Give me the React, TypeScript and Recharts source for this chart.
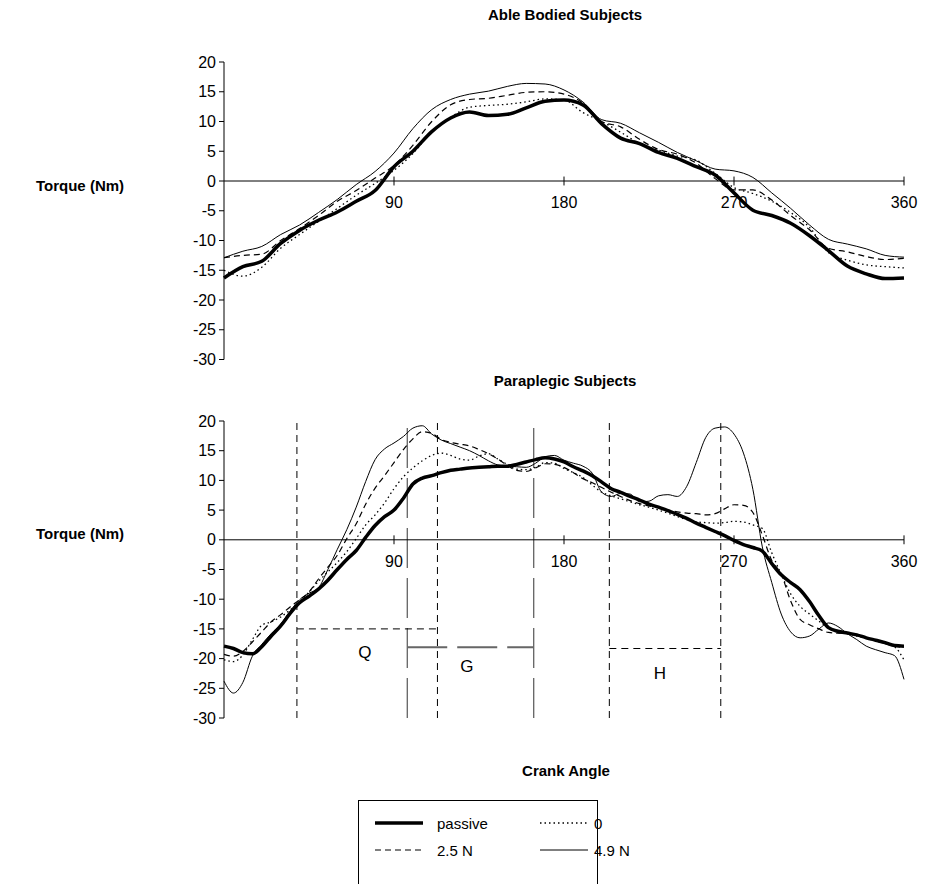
import React from "react";
import { LineChart, Line, XAxis, YAxis, ReferenceLine, ReferenceDot } from "recharts";

const FONT = "'Liberation Sans', Arial, sans-serif";

const yTicks = [-30, -25, -20, -15, -10, -5, 0, 5, 10, 15, 20];
const xTickLabels = [90, 180, 270, 360];

// able bodied, every 10 degrees
const topAngles = [
  0, 10, 20, 30, 40, 50, 60, 70, 80, 90, 100, 110, 120, 130, 140, 150, 160, 170, 180,
  190, 200, 210, 220, 230, 240, 250, 260, 270, 280, 290, 300, 310, 320, 330, 340, 350, 360,
];
const topPassive = [
  -16.3, -14.4, -13.5, -10.5, -8.3, -6.6, -5.2, -3.4, -1.6, 2.4, 5.0, 8.3, 10.6, 11.6, 11.0, 11.2, 12.3, 13.4, 13.6,
  12.8, 9.6, 7.2, 6.3, 4.8, 3.8, 2.4, 1.0, -2.0, -4.9, -5.8, -7.1, -9.2, -11.7, -14.3, -15.6, -16.4, -16.3,
];
const topZero = [
  -15.0, -16.0, -14.5, -11.3, -9.0, -6.8, -4.6, -2.4, -0.4, 1.8, 4.6, 8.3, 10.7, 12.4, 12.7, 12.9, 13.3, 13.8, 13.6,
  11.5, 10.0, 8.2, 6.3, 5.2, 4.2, 3.5, 1.3, -1.1, -2.1, -3.4, -5.3, -7.8, -12.0, -13.3, -14.1, -14.4, -14.6,
];
const top25 = [
  -12.9, -12.5, -12.3, -10.0, -8.0, -5.8, -3.4, -1.6, 0.5, 2.6, 6.0, 10.0, 12.8, 13.7, 13.9, 14.4, 14.9, 15.0, 14.6,
  13.1, 10.0, 9.1, 7.0, 5.3, 4.5, 3.0, 0.4, -1.5, -1.5, -3.2, -5.8, -8.2, -11.3, -11.9, -12.7, -13.2, -13.0,
];
const top49 = [
  -12.9, -11.8, -11.0, -9.0, -7.4, -5.3, -3.1, -0.6, 1.6, 4.7, 8.8, 12.0, 13.7, 14.6, 15.1, 15.9, 16.4, 16.3, 15.3,
  13.3, 10.3, 9.7, 8.1, 6.5, 4.8, 3.4, 2.0, 1.7, 0.6, -2.0, -4.6, -7.4, -9.8, -10.6, -11.4, -12.5, -12.8,
];

// paraplegic, every 5 degrees
const botAngles = [
  0, 5, 10, 15, 20, 25, 30, 35, 40, 45, 50, 55, 60, 65, 70, 75, 80, 85, 90, 95, 100, 105, 110, 115, 120, 125,
  130, 135, 140, 145, 150, 155, 160, 165, 170, 175, 180, 185, 190, 195, 200, 205, 210, 215, 220, 225, 230, 235,
  240, 245, 250, 255, 260, 265, 270, 275, 280, 285, 290, 295, 300, 305, 310, 315, 320, 325, 330, 335, 340, 345,
  350, 355, 360,
];
const botPassive = [
  -17.9, -18.3, -19.0, -19.2, -18.0, -16.2, -14.5, -12.4, -10.6, -9.5, -8.3, -6.8, -5.0, -3.3, -1.8, 0.4, 2.4, 3.9,
  5.0, 7.0, 9.4, 10.4, 10.8, 11.3, 11.7, 11.9, 12.1, 12.2, 12.3, 12.4, 12.4, 12.7, 13.1, 13.5, 13.8, 13.6, 13.1,
  12.3, 11.6, 10.8, 9.7, 8.6, 8.0, 7.3, 6.7, 6.0, 5.5, 4.9, 4.3, 3.6, 2.8, 2.1, 1.4, 0.7, -0.1, -0.8, -1.3, -1.9,
  -4.0, -5.9, -7.2, -8.4, -10.4, -12.8, -14.8, -15.4, -15.7, -16.0, -16.5, -16.9, -17.3, -17.8, -17.9,
];
const botZero = [
  -20.2, -20.5, -19.4, -16.8, -14.4, -13.8, -13.0, -11.8, -10.5, -8.8, -7.0, -5.4, -3.8, -2.0, 0.2, 2.5, 4.2, 6.2,
  8.6, 10.6, 12.1, 13.3, 14.2, 14.6, 14.2, 13.6, 13.4, 14.1, 14.5, 13.6, 12.7, 11.9, 11.8, 12.2, 13.0, 12.9, 12.0,
  11.3, 10.5, 9.2, 8.0, 7.4, 6.9, 6.4, 5.9, 5.5, 5.0, 4.5, 3.9, 3.4, 3.0, 2.9, 2.8, 2.9, 3.1, 3.0, 2.5, 1.9,
  -2.2, -5.8, -9.1, -11.2, -12.5, -13.7, -14.9, -15.6, -15.8, -16.2, -16.6, -17.0, -17.4, -18.0, -20.2,
];
const bot25 = [
  -19.3, -19.6, -18.8, -17.2, -15.5, -13.8, -12.6, -11.3, -10.1, -8.8, -6.6, -4.6, -2.6, 0.2, 2.7, 6.0, 8.7, 10.8,
  13.0, 15.2, 17.0, 18.2, 17.9, 16.9, 16.4, 16.1, 15.8, 15.2, 14.5, 13.6, 12.5, 11.7, 11.5, 12.1, 12.8, 12.7, 12.2,
  11.3, 10.3, 9.6, 8.8, 8.0, 7.3, 6.6, 6.1, 5.7, 5.4, 5.0, 4.7, 4.5, 4.4, 4.2, 4.4, 5.2, 5.9, 5.8, 4.6, 0.8,
  -3.5, -5.8, -10.3, -13.4, -14.3, -15.0, -15.6, -15.7, -15.7, -16.1, -16.5, -17.0, -17.5, -17.9, -18.2,
];
const bot49 = [
  -23.8, -25.8, -24.0, -19.6, -17.6, -15.8, -14.2, -12.0, -10.1, -9.0, -8.1, -5.0, -1.6, 1.7, 5.5, 9.8, 13.5, 15.3,
  16.3, 17.4, 18.8, 19.2, 17.8, 16.8, 16.2, 15.6, 15.0, 14.2, 13.3, 12.6, 12.4, 12.3, 12.2, 12.9, 14.0, 14.2, 13.4,
  12.9, 12.4, 11.2, 8.0, 7.3, 7.8, 7.7, 6.4, 6.5, 7.4, 7.6, 7.3, 9.0, 13.0, 17.2, 18.8, 19.0, 17.8, 14.6, 8.5, -1.2,
  -7.2, -12.5, -15.5, -16.5, -16.2, -15.0, -14.0, -14.6, -15.8, -16.8, -17.9, -18.5, -19.0, -19.5, -23.5,
];

// phase markers on the paraplegic plot
const phaseQ = { from: 38.6, to: 113, level: -15 };
const phaseG = { from: 97, to: 164, level: -18.1 };
const phaseH = { from: 204, to: 263, level: -18.3 };
const phaseLabels = [
  { text: "Q", x: 74.6, y: -18.8 },
  { text: "G", x: 128.6, y: -21.3 },
  { text: "H", x: 230.8, y: -22.4 },
];

const topData = topAngles.map((a, i) => ({
  angle: a,
  passive: topPassive[i],
  zero: topZero[i],
  n25: top25[i],
  n49: top49[i],
}));
const botData = botAngles.map((a, i) => ({
  angle: a,
  passive: botPassive[i],
  zero: botZero[i],
  n25: bot25[i],
  n49: bot49[i],
}));

const seriesLines = () => [
  <Line key="n49" dataKey="n49" type="monotone" stroke="#000" strokeWidth={1} dot={false} isAnimationActive={false} />,
  <Line key="n25" dataKey="n25" type="monotone" stroke="#000" strokeWidth={1.2} strokeDasharray="6 4" dot={false} isAnimationActive={false} />,
  <Line key="zero" dataKey="zero" type="monotone" stroke="#000" strokeWidth={1.3} strokeDasharray="1.5 3" dot={false} isAnimationActive={false} />,
  <Line key="passive" dataKey="passive" type="monotone" stroke="#000" strokeWidth={3.5} dot={false} isAnimationActive={false} />,
];

const axisBits = () => [
  <ReferenceLine key="zeroline" y={0} stroke="#000" strokeWidth={1} />,
  ...xTickLabels.map((t) => (
    <ReferenceLine key={"t" + t} segment={[{ x: t, y: -0.75 }, { x: t, y: 0.75 }]} stroke="#000" />
  )),
  ...xTickLabels.map((t) => (
    <ReferenceDot
      key={"l" + t}
      x={t}
      y={0}
      r={0}
      fill="none"
      stroke="none"
      label={{ value: String(t), position: "bottom", offset: 16, fill: "#000", fontSize: 16, fontFamily: FONT }}
    />
  )),
];

function Panel({ data, top, height, mTop, mBottom, markers }: any) {
  return (
    <div style={{ position: "absolute", left: 0, top, width: 930, height }}>
      <LineChart width={930} height={height} data={data} margin={{ top: mTop, right: 26, bottom: mBottom, left: 0 }}>
        <XAxis type="number" dataKey="angle" domain={[0, 360]} hide />
        <YAxis
          type="number"
          domain={[-30, 20]}
          ticks={yTicks}
          interval={0}
          width={224}
          axisLine={{ stroke: "#000" }}
          tickLine={{ stroke: "#000" }}
          tickSize={5}
          tickMargin={3}
          tick={{ fill: "#000", fontSize: 16, fontFamily: FONT }}
        />
        {markers}
        {axisBits()}
        {seriesLines()}
      </LineChart>
    </div>
  );
}

const markerLines = [
  <ReferenceLine key="v1" x={phaseQ.from} stroke="#000" strokeDasharray="7 5" />,
  <ReferenceLine key="v2" x={phaseG.from} stroke="#333" strokeDasharray="40 10" />,
  <ReferenceLine key="v3" x={phaseQ.to} stroke="#000" strokeDasharray="7 5" />,
  <ReferenceLine key="v4" x={phaseG.to} stroke="#333" strokeDasharray="40 10" />,
  <ReferenceLine key="v5" x={phaseH.from} stroke="#000" strokeDasharray="7 5" />,
  <ReferenceLine key="v6" x={phaseH.to} stroke="#000" strokeDasharray="7 5" />,
  <ReferenceLine key="hq" segment={[{ x: phaseQ.from, y: phaseQ.level }, { x: phaseQ.to, y: phaseQ.level }]} stroke="#000" strokeDasharray="7 5" />,
  <ReferenceLine key="hg" segment={[{ x: phaseG.from, y: phaseG.level }, { x: phaseG.to, y: phaseG.level }]} stroke="#666" strokeWidth={2} strokeDasharray="40 10" />,
  <ReferenceLine key="hh" segment={[{ x: phaseH.from, y: phaseH.level }, { x: phaseH.to, y: phaseH.level }]} stroke="#000" strokeDasharray="7 5" />,
  ...phaseLabels.map((p) => (
    <ReferenceDot
      key={p.text}
      x={p.x}
      y={p.y}
      r={0}
      fill="none"
      stroke="none"
      label={{ value: p.text, position: "center", fill: "#000", fontSize: 17, fontFamily: FONT }}
    />
  )),
];

const legendItems = [
  { name: "passive", dash: undefined, width: 3.5 },
  { name: "0", dash: "1.5 3", width: 1.3 },
  { name: "2.5 N", dash: "6 4", width: 1.2 },
  { name: "4.9 N", dash: undefined, width: 1 },
];

const textStyle: React.CSSProperties = { position: "absolute", fontFamily: FONT, fontWeight: "bold", fontSize: 15, color: "#000", whiteSpace: "nowrap" };

export default function App() {
  return (
    <div style={{ position: "absolute", left: 0, top: 0, width: 930, height: 884, background: "#fff", overflow: "hidden" }}>
      <div style={{ ...textStyle, left: 565, top: 6, transform: "translateX(-50%)" }}>Able Bodied Subjects</div>
      <div style={{ ...textStyle, left: 565, top: 372, transform: "translateX(-50%)" }}>Paraplegic Subjects</div>
      <div style={{ ...textStyle, left: 36, top: 177 }}>Torque (Nm)</div>
      <div style={{ ...textStyle, left: 36, top: 525 }}>Torque (Nm)</div>
      <div style={{ ...textStyle, left: 566, top: 762, transform: "translateX(-50%)" }}>Crank Angle</div>

      <Panel data={topData} top={0} height={380} mTop={62} mBottom={20.5} markers={null} />
      <Panel data={botData} top={370} height={370} mTop={51} mBottom={22} markers={markerLines} />

      <div style={{ position: "absolute", left: 358, top: 800, width: 240, height: 100, border: "1px solid #000", boxSizing: "border-box" }}>
        {legendItems.map((it, i) => {
          const col = i % 2;
          const row = Math.floor(i / 2);
          return (
            <div
              key={it.name}
              style={{ position: "absolute", left: 16 + col * 165, top: 12 + row * 27, height: 20, display: "flex", alignItems: "center", whiteSpace: "nowrap" }}
            >
              <svg width={48} height={20} style={{ flex: "none" }}>
                <line x1={0} x2={48} y1={10} y2={10} stroke="#000" strokeWidth={it.width} strokeDasharray={it.dash} />
              </svg>
              <span style={{ marginLeft: col === 0 ? 14 : 6, fontFamily: FONT, fontSize: 15 }}>{it.name}</span>
            </div>
          );
        })}
      </div>
    </div>
  );
}
